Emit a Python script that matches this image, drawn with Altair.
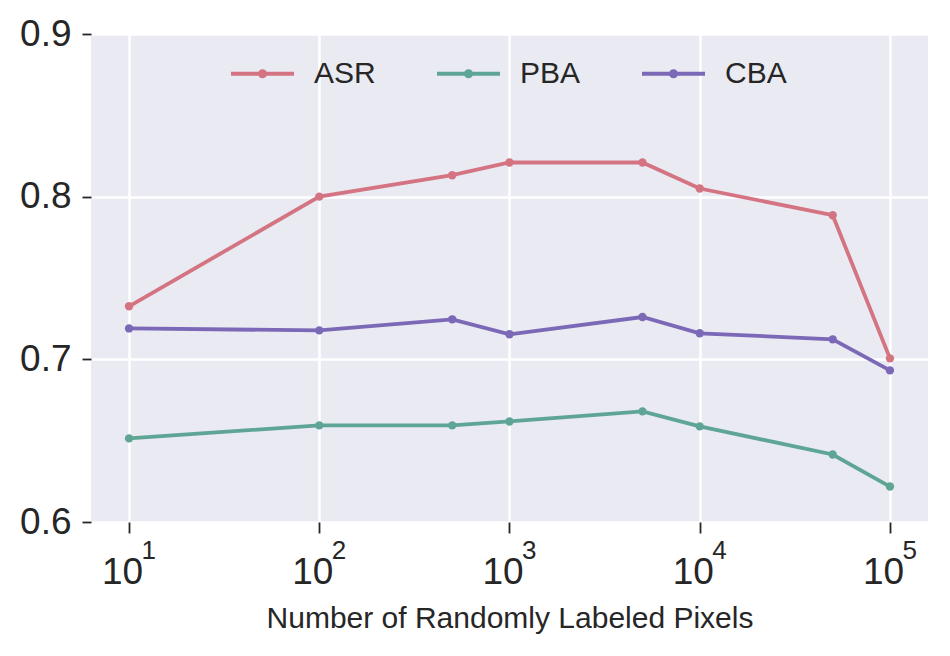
import altair as alt
import pandas as pd

pixels = [10, 100, 500, 1000, 5000, 10000, 50000, 100000]
asr = [0.7326, 0.8000, 0.8132, 0.8210, 0.8210, 0.8050, 0.7886, 0.7006]
pba = [0.6514, 0.6594, 0.6594, 0.6618, 0.6680, 0.6588, 0.6415, 0.6218]
cba = [0.7190, 0.7178, 0.7246, 0.7154, 0.7260, 0.7160, 0.7123, 0.6932]
series = ["ASR", "PBA", "CBA"]
colors = ["#d47482", "#5fa596", "#7b68b6"]
x_ticks = [10, 100, 1000, 10000, 100000]
y_ticks = [0.6, 0.7, 0.8, 0.9]

rows = []
for name, vals in zip(series, [asr, pba, cba]):
    for p, v in zip(pixels, vals):
        rows.append({"pixels": p, "value": v, "series": name})
df = pd.DataFrame(rows)

TXT = "#262626"
xscale = alt.Scale(type="log", domain=[10 ** 0.8, 10 ** 5.2], nice=False)
yscale = alt.Scale(domain=[0.6, 0.9], nice=False, zero=False)

# legend symbol: line with a dot
r1, r2 = 0.085, 0.035
sym = (f"M-1,0L1,0"
       f"M{-r1},0A{r1},{r1} 0 1,0 {r1},0A{r1},{r1} 0 1,0 {-r1},0"
       f"M{-r2},0A{r2},{r2} 0 1,0 {r2},0A{r2},{r2} 0 1,0 {-r2},0")

lines = alt.Chart(df).mark_line(
    strokeWidth=3.8,
    point=alt.OverlayMarkDef(filled=True, size=70, opacity=1),
).encode(
    x=alt.X("pixels:Q", scale=xscale, axis=alt.Axis(
        values=x_ticks, labelExpr="'10'", labelFontSize=37, labelOffset=-7,
        labelColor=TXT, tickSize=11, tickWidth=1.8, tickColor=TXT,
        labelPadding=21, domain=False, grid=True, gridColor="white",
        gridWidth=2.5, title="Number of Randomly Labeled Pixels",
        titleFontSize=30, titleFontWeight="normal", titleColor=TXT,
        titleBaseline="alphabetic", titleY=105)),
    y=alt.Y("value:Q", scale=yscale, axis=alt.Axis(
        values=y_ticks, format=".1f", labelFontSize=37, labelColor=TXT,
        tickSize=9, tickWidth=1.8, tickColor=TXT, labelPadding=11,
        domain=False, grid=True, gridColor="white", gridWidth=2.5,
        title=None)),
    color=alt.Color("series:N", sort=series,
                    scale=alt.Scale(domain=series, range=colors),
                    legend=alt.Legend(
                        title=None, orient="none", direction="horizontal",
                        legendX=138, legendY=6, symbolType=sym,
                        symbolSize=3969, symbolStrokeWidth=3.8,
                        labelFontSize=30, labelColor=TXT, labelOffset=18,
                        columnPadding=53, padding=0, symbolOpacity=1)),
    order=alt.Order("series:N"),
)

exp_axis = alt.Chart(df).mark_point(opacity=0).encode(
    x=alt.X("pixels:Q", scale=xscale, axis=alt.Axis(
        orient="bottom", values=x_ticks,
        labelExpr="toString(round(log(datum.value)/LN10))",
        labelFontSize=26, labelAlign="left", labelOffset=12, labelColor=TXT,
        ticks=False, domain=False, grid=False, labelPadding=15,
        title=None)),
    y=alt.Y("value:Q", scale=yscale),
)

chart = alt.layer(lines, exp_axis).resolve_axis(x="independent").resolve_scale(
    x="shared", y="shared"
).properties(
    width=837, height=488,
    autosize=alt.AutoSizeParams(type="none"),
    padding={"left": 83, "top": 26, "right": 14, "bottom": 126},
).configure(font="Liberation Sans").configure_view(
    fill="#eaeaf2", stroke=None
)

chart.save("out.html", embed_options={"renderer": "svg", "actions": False})
